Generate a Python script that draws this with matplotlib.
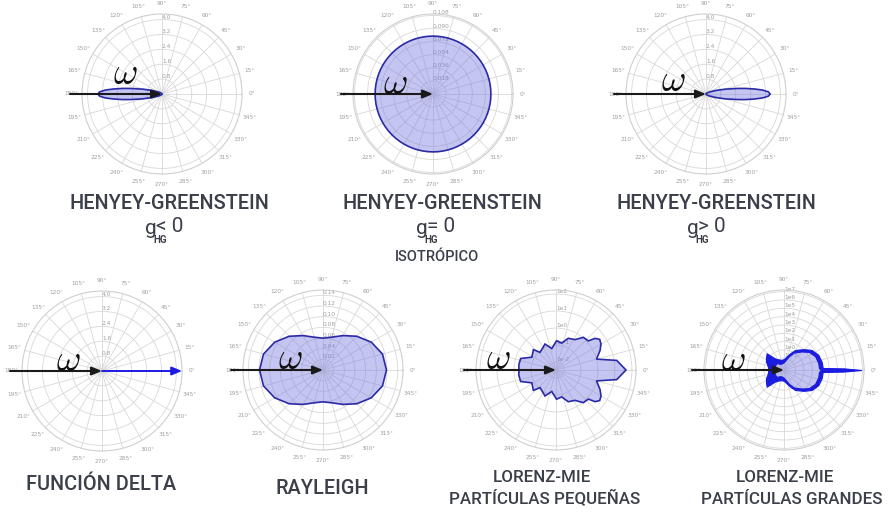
import numpy as np
import matplotlib
matplotlib.use("Agg")
import matplotlib.pyplot as plt

W, H = 891, 520

# Henyey-Greenstein lobe, radius vs. angular offset from the lobe axis (deg)
hg_offset_deg = [0, 2, 4, 6, 8, 10, 14, 20, 30, 45, 60, 90, 120, 150, 180]
hg_lobe_r = [3.45, 3.35, 3.05, 2.6, 2.15, 1.72, 1.08, 0.56, 0.22, 0.08, 0.04, 0.015, 0.007, 0.005, 0.005]
hg_ticks = [0.8, 1.6, 2.4, 3.2, 4.0]
hg_rmax = 4.3

# isotropic phase function
iso_r = 0.0796
iso_ticks = [0.018, 0.036, 0.054, 0.072, 0.090, 0.108]
iso_rmax = 0.110

# delta function: single forward ray
delta_r = 4.3

# Rayleigh, every 15 deg
rayleigh_deg = [0, 15, 30, 45, 60, 75, 90, 105, 120, 135, 150, 165,
                180, 195, 210, 225, 240, 255, 270, 285, 300, 315, 330, 345]
rayleigh_r = [0.119, 0.1155, 0.1045, 0.0895, 0.0745, 0.0637, 0.0597, 0.0637, 0.0745, 0.0895, 0.1045, 0.1155,
              0.119, 0.1155, 0.1045, 0.0895, 0.0745, 0.0637, 0.0597, 0.0637, 0.0745, 0.0895, 0.1045, 0.1155]
rayleigh_ticks = [0.02, 0.04, 0.06, 0.08, 0.10, 0.12, 0.14]
rayleigh_rmax = 0.15

# Lorenz-Mie small particles (log10 intensity, upper half 0..180 deg)
mie_small_deg = [0, 9, 15, 24, 30, 35, 39, 42, 50, 58, 69, 78, 89, 101, 113, 132, 138, 152, 162, 172, 180]
mie_small_log = [1.65, 1.15, 0.0, 0.37, 0.59, 0.67, 0.49, 0.09, 0.04, -0.36, -0.47, -0.85, -0.75, -1.18,
                 -0.81, -1.07, -0.68, -0.86, -0.28, -0.26, -0.29]
mie_small_ticks = [-2, -1, 0, 1, 2]
mie_small_lim = (-2.47, 2.24)

# Lorenz-Mie large particles: envelope of the fast oscillations (log10)
mie_large_deg = [0, 1.5, 3, 12, 24, 36, 47, 61, 70, 79, 90, 103, 118, 128, 136, 145, 155, 165, 174, 180]
mie_large_outer = [6.84, 4.80, 2.25, 2.23, 2.10, 1.69, 1.02, 0.34, -0.28, -0.77, -1.08, -1.16, -0.96, -0.64,
                   0.48, 0.24, -0.02, -0.36, -0.50, -0.48]
mie_large_inner = [2.04, 1.92, 1.80, 1.80, 1.68, 1.30, 0.64, -0.02, -0.64, -1.13, -1.44, -1.56, -1.56, -1.44,
                   -1.2, -1.2, -1.2, -1.2, -1.2, -1.2]
mie_large_ticks = [-1, 0, 1, 2, 3, 4, 5, 6, 7]
mie_large_lim = (-2.4, 7.2)

FILL = (0.44, 0.44, 0.88, 0.40)
EDGE = "#2a2aa6"
BRIGHT = "#1c1ce0"
GRID = "#d8d8d8"
LABEL = "#a0a0a0"
TITLE = "#3a3f4a"
title_font = ["Roboto", "DejaVu Sans"]

fig = plt.figure(figsize=(W / 100, H / 100), dpi=100)
fig.patch.set_facecolor("white")


def pt(x, y):
    return x / W, 1 - y / H


def mirror(deg, vals):
    # upper half 0..180 -> closed curve 0..360
    d = list(deg) + [360 - a for a in reversed(deg[1:-1])]
    v = list(vals) + list(reversed(vals[1:-1]))
    return np.radians(d), np.array(v)


def polar_panel(cx, cy, lim, ticks, labels, R=80):
    ax = fig.add_axes([(cx - R) / W, 1 - (cy + R) / H, 2 * R / W, 2 * R / H], projection="polar")
    ax.set_ylim(*lim)
    ax.set_yticks(ticks)
    ax.set_yticklabels(labels, fontsize=4.2, color=LABEL)
    ax.set_rlabel_position(90)
    ax.set_thetagrids(np.arange(0, 360, 15), labels=[f"{d}°" for d in range(0, 360, 15)],
                      fontsize=4.2, color=LABEL)
    ax.tick_params(axis="x", pad=-3)
    ax.grid(color=GRID, lw=0.6)
    ax.spines["polar"].set_color("#cfcfcf")
    ax.spines["polar"].set_linewidth(0.8)
    ax.set_facecolor("white")
    return ax


def incoming(ax):
    ax.annotate("", xy=(0.5, 0.5), xytext=(-0.075, 0.5), xycoords="axes fraction",
                textcoords="axes fraction", annotation_clip=False,
                arrowprops=dict(arrowstyle="-|>,head_length=0.6,head_width=0.25", color="#1a1a1a",
                                lw=1.5, shrinkA=0, shrinkB=0), zorder=6)


def omega(x, y):
    fig.text(*pt(x, y), r"$\omega$", fontsize=27, math_fontfamily="cm", ha="center", va="center",
             color="#111111")


def fmt(ticks, f):
    return [f.format(t) for t in ticks]


# --- top row: Henyey-Greenstein ---
th, r = mirror(hg_offset_deg, hg_lobe_r)

ax = polar_panel(162, 94, (0, hg_rmax), hg_ticks, fmt(hg_ticks, "{:.1f}"))
ax.fill(th + np.pi, r, facecolor=FILL, edgecolor=EDGE, lw=1.2, zorder=4)
incoming(ax)
omega(125, 74)

ax = polar_panel(433, 94, (0, iso_rmax), iso_ticks, fmt(iso_ticks, "{:.3f}"))
circ = np.radians(np.arange(0, 361, 5))
ax.fill(circ, np.full(circ.size, iso_r), facecolor=FILL, edgecolor=EDGE, lw=1.2, zorder=4)
incoming(ax)
omega(395, 84)

ax = polar_panel(706, 94, (0, hg_rmax), hg_ticks, fmt(hg_ticks, "{:.1f}"))
ax.fill(th, r, facecolor=FILL, edgecolor=EDGE, lw=1.2, zorder=4)
incoming(ax)
omega(673, 81)

# --- bottom row ---
ax = polar_panel(102, 371, (0, hg_rmax), hg_ticks, fmt(hg_ticks, "{:.1f}"))
ax.annotate("", xy=(0, delta_r), xytext=(0, 0), annotation_clip=False,
            arrowprops=dict(arrowstyle="-|>,head_length=0.6,head_width=0.25", color=BRIGHT,
                            lw=1.4, shrinkA=0, shrinkB=0), zorder=5)
incoming(ax)
omega(68, 361)

ax = polar_panel(323, 370, (0, rayleigh_rmax), rayleigh_ticks, fmt(rayleigh_ticks, "{:.2f}"))
ax.fill(np.radians(rayleigh_deg), rayleigh_r, facecolor=FILL, edgecolor=EDGE, lw=1.2, zorder=4)
incoming(ax)
omega(290, 359)

ax = polar_panel(556, 370, mie_small_lim, mie_small_ticks, [f"1e{t}" for t in mie_small_ticks])
th, r = mirror(mie_small_deg, mie_small_log)
ax.fill(th, r, facecolor=FILL, edgecolor=EDGE, lw=1.2, zorder=4)
incoming(ax)
omega(498, 359)

ax = polar_panel(784, 370, mie_large_lim, mie_large_ticks, [f"1e{t}" for t in mie_large_ticks])
th, ro = mirror(mie_large_deg, mie_large_outer)
_, ri = mirror(mie_large_deg, mie_large_inner)
th = np.append(th, th[0] + 2 * np.pi)
ro = np.append(ro, ro[0])
ri = np.append(ri, ri[0])
ax.fill(th, ro, facecolor=FILL, edgecolor="none", zorder=3)
ax.fill_between(th, ri, ro, facecolor=BRIGHT, edgecolor=BRIGHT, lw=0.8, zorder=4)
incoming(ax)
omega(733, 361)


# --- captions ---
def caption(x, y, s, size=14.3):
    fig.text(*pt(x, y), s, ha="center", va="center", fontsize=size, family=title_font,
             weight="medium", color=TITLE)


def g_label(c, rel):
    fig.text(*pt(c - 21, 228), "g", ha="left", va="center", fontsize=15, family=title_font, color=TITLE)
    fig.text(*pt(c - 13, 240), "HG", ha="left", va="center", fontsize=7, weight="bold",
             family=title_font, color=TITLE)
    fig.text(*pt(c - 10, 226), rel + " 0", ha="left", va="center", fontsize=15, family=title_font,
             color=TITLE)


for cx in (169, 442, 716):
    caption(cx, 204, "HENYEY-GREENSTEIN")
g_label(166, "<")
g_label(437, "=")
g_label(708, ">")
caption(437, 257, "ISOTRÓPICO", size=10.5)

caption(101, 485, "FUNCIÓN DELTA")
caption(322, 489, "RAYLEIGH")
caption(542, 477, "LORENZ-MIE", size=12.2)
caption(545, 499, "PARTÍCULAS PEQUEÑAS", size=12.2)
caption(785, 477, "LORENZ-MIE", size=12.2)
caption(792, 499, "PARTÍCULAS GRANDES", size=12.2)

fig.savefig("out.png", dpi=100, facecolor="white")
